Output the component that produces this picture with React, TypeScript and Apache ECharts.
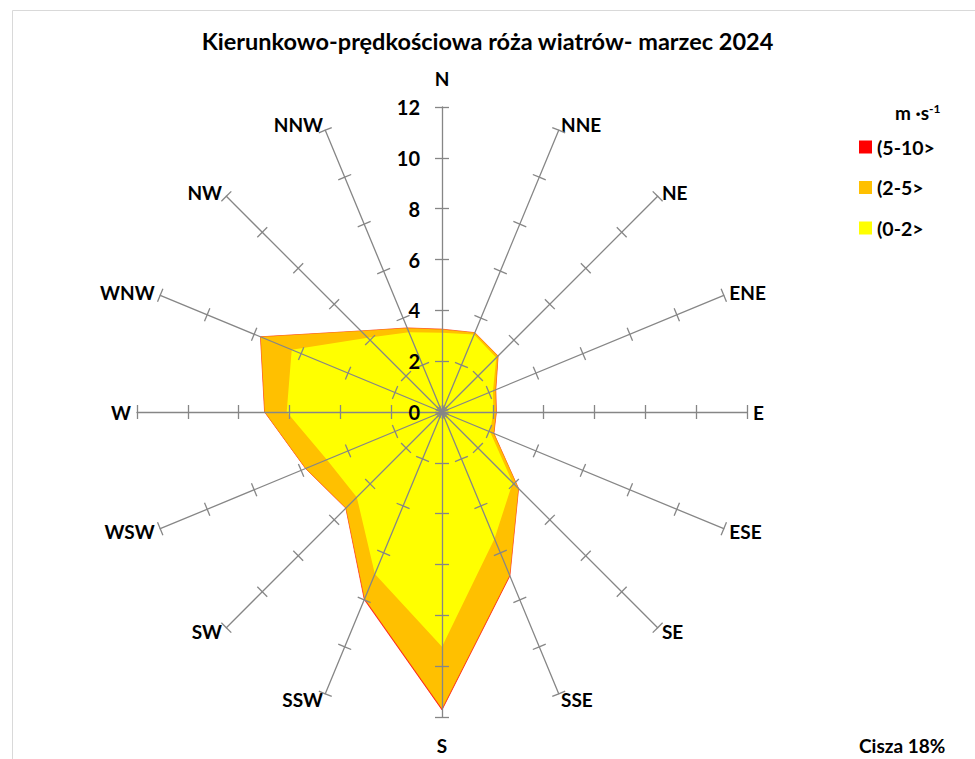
import React, { useEffect, useRef } from 'react';
import * as echarts from 'echarts';

// Wind directions (compass order, clockwise from N)
const directions = ['N', 'NNE', 'NE', 'ENE', 'E', 'ESE', 'SE', 'SSE', 'S', 'SSW', 'SW', 'WSW', 'W', 'WNW', 'NW', 'NNW'];
// Cumulative frequency [%] for speed classes
const freq0to2 = [3.12, 3.3, 3.02, 2.17, 2.02, 2.05, 3.93, 5.4, 9.24, 6.9, 4.74, 4.9, 6.11, 6.4, 4.13, 3.4];
const freq2to5 = [3.25, 3.37, 3.11, 2.28, 2.13, 2.2, 4.25, 6.95, 11.67, 7.95, 5.34, 5.8, 6.97, 7.72, 4.5, 3.57];
const freq5to10 = [3.26, 3.38, 3.12, 2.29, 2.14, 2.21, 4.26, 6.98, 11.72, 7.99, 5.35, 5.81, 6.98, 7.73, 4.51, 3.58];
const radialTicks = [0, 2, 4, 6, 8, 10, 12];
const legendNames = ['(5-10>', '(2-5>', '(0-2>'];
const titleText = 'Kierunkowo-prędkościowa róża wiatrów- marzec 2024';
const unitText = 'm ·s{sup|-1}';
const calmText = 'Cisza 18%';

const FONT = 'Lato, "Open Sans", "DejaVu Sans", sans-serif';
const AXIS_COLOR = '#868686';

export default function App() {
  const ref = useRef<HTMLDivElement>(null);

  useEffect(() => {
    document.body.style.margin = '0';
    if (!ref.current) return;
    const chart = echarts.init(ref.current, null, { renderer: 'svg' });

    // ECharts radar lays indicators counter-clockwise; reorder to get compass (clockwise) layout
    const order = directions.map((_, i) => (directions.length - i) % directions.length);
    const maxV = radialTicks[radialTicks.length - 1];
    const minV = radialTicks[0];
    const splitNumber = radialTicks.length - 1;

    const indicatorsMain = order.map((i) => {
      const name = directions[i];
      const vertical = name === 'N' || name === 'S';
      const ind: any = { name, min: minV, max: maxV, nameGap: vertical ? 19 : 6 };
      if (i === 0) {
        ind.axisLabel = {
          show: true,
          margin: 22,
          color: '#000',
          fontWeight: 'bold',
          fontSize: 20,
          fontFamily: FONT,
        };
      }
      return ind;
    });
    const indicatorsAux = order.map((i) => ({ name: directions[i], min: minV, max: maxV }));

    const commonRadar = {
      center: [442, 412],
      radius: 305,
      startAngle: 90,
      shape: 'polygon',
      splitNumber,
      z: 5,
      splitLine: { show: false },
      splitArea: { show: false },
    };

    const option: any = {
      animation: false,
      backgroundColor: '#ffffff',
      title: {
        text: titleText,
        left: 'center',
        top: 24,
        textStyle: { fontSize: 23.5, fontWeight: 'bold', color: '#000', fontFamily: FONT },
      },
      legend: {
        orient: 'vertical',
        left: 854,
        top: 132,
        itemWidth: 13,
        itemHeight: 13,
        itemGap: 20.5,
        itemTextGap: 5,
        itemStyle: { borderWidth: 0 },
        icon: 'rect',
        selectedMode: false,
        textStyle: { fontWeight: 'bold', fontSize: 19.5, color: '#000', fontFamily: FONT },
        data: legendNames,
      },
      radar: [
        {
          ...commonRadar,
          indicator: indicatorsMain,
          axisName: { color: '#000', fontWeight: 'bold', fontSize: 19, fontFamily: FONT },
          axisLine: { show: true, lineStyle: { color: AXIS_COLOR, width: 1.3 } },
          axisTick: { show: true, length: 7, lineStyle: { color: AXIS_COLOR, width: 1.3 } },
          axisLabel: { show: false },
        },
        {
          ...commonRadar,
          indicator: indicatorsAux,
          axisName: { show: false },
          axisLine: { show: false },
          axisTick: { show: true, length: -7, lineStyle: { color: AXIS_COLOR, width: 1.3 } },
          axisLabel: { show: false },
        },
      ],
      series: [
        {
          type: 'radar',
          radarIndex: 0,
          symbol: 'none',
          z: 2,
          data: [
            {
              name: legendNames[0],
              value: order.map((i) => freq5to10[i]),
              itemStyle: { color: '#FF0000' },
              lineStyle: { color: '#FF0000', width: 0.6 },
              areaStyle: { color: '#FF0000', opacity: 1 },
            },
            {
              name: legendNames[1],
              value: order.map((i) => freq2to5[i]),
              itemStyle: { color: '#FFC000' },
              lineStyle: { color: '#F7A21B', width: 0.6 },
              areaStyle: { color: '#FFC000', opacity: 1 },
            },
            {
              name: legendNames[2],
              value: order.map((i) => freq0to2[i]),
              itemStyle: { color: '#FFFF00' },
              lineStyle: { color: '#FFFF00', width: 0 },
              areaStyle: { color: '#FFFF00', opacity: 1 },
            },
          ],
        },
      ],
      graphic: [
        {
          type: 'rect',
          silent: true,
          z: -1,
          shape: { x: 12.5, y: 10.5, width: 990, height: 780 },
          style: { fill: 'none', stroke: '#D9D9D9', lineWidth: 1 },
        },
        {
          type: 'text',
          x: 895,
          y: 112,
          style: {
            text: unitText,
            fill: '#000',
            font: `bold 19px ${FONT}`,
            verticalAlign: 'middle',
            rich: {
              sup: { fontSize: 12, fontWeight: 'bold', fontFamily: FONT, fill: '#000', verticalAlign: 'top', padding: [0, 0, 7, 0] },
            },
          },
        },
        {
          type: 'text',
          x: 859,
          y: 745,
          style: {
            text: calmText,
            fill: '#000',
            font: `bold 19px ${FONT}`,
            verticalAlign: 'middle',
          },
        },
      ],
    };

    chart.setOption(option);
    return () => chart.dispose();
  }, []);

  return <div ref={ref} style={{ width: 975, height: 759 }} />;
}
